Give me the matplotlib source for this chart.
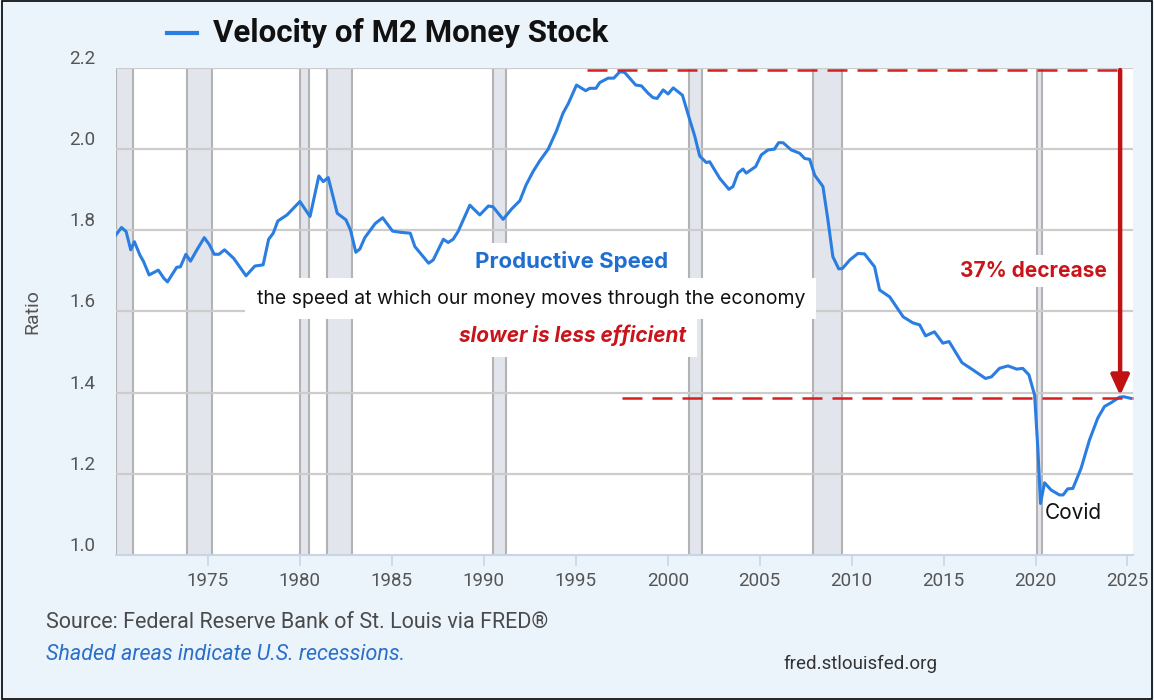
import matplotlib
matplotlib.use("Agg")
import matplotlib.pyplot as plt
from matplotlib.patches import Rectangle
from matplotlib.lines import Line2D

# ---------------- data ----------------
years = [1970.0, 1970.3, 1970.55, 1970.8, 1971.0, 1971.3, 1971.5, 1971.8, 1972.3, 1972.6,
         1972.8, 1973.3, 1973.5, 1973.8, 1974.05, 1974.4, 1974.8, 1975.07, 1975.34, 1975.6,
         1975.9, 1976.4, 1977.07, 1977.55, 1978.0, 1978.3, 1978.55, 1978.8, 1979.3, 1980.0,
         1980.55, 1981.03, 1981.27, 1981.54, 1982.03, 1982.5, 1982.75, 1983.04, 1983.26, 1983.53,
         1984.1, 1984.5, 1985.04, 1985.5, 1986.0, 1986.25, 1987.0, 1987.25, 1987.8, 1988.06,
         1988.33, 1988.6, 1989.24, 1989.78, 1990.25, 1990.5, 1991.05, 1991.5, 1991.96, 1992.3,
         1992.68, 1993.04, 1993.5, 1993.95, 1994.3, 1994.6, 1995.04, 1995.54, 1995.76, 1996.1,
         1996.3, 1996.76, 1997.07, 1997.4, 1997.66, 1998.26, 1998.57, 1998.93, 1999.2, 1999.42,
         1999.75, 2000.02, 2000.3, 2000.8, 2001.2, 2001.47, 2001.74, 2002.1, 2002.28, 2002.83,
         2003.33, 2003.55, 2003.82, 2004.09, 2004.27, 2004.78, 2005.09, 2005.45, 2005.8, 2006.03,
         2006.27, 2006.72, 2007.17, 2007.45, 2007.72, 2007.99, 2008.44, 2008.71, 2008.98, 2009.3,
         2009.5, 2009.9, 2010.34, 2010.7, 2011.25, 2011.52, 2012.07, 2012.8, 2013.33, 2013.7,
         2014.02, 2014.5, 2014.96, 2015.3, 2016.0, 2016.6, 2017.28, 2017.6, 2018.04, 2018.5,
         2018.98, 2019.3, 2019.64, 2019.95, 2020.13, 2020.27, 2020.49, 2020.85, 2021.3, 2021.5,
         2021.75, 2022.03, 2022.48, 2022.93, 2023.38, 2023.75, 2024.1, 2024.57, 2024.8, 2025.18]
velocity = [1.789, 1.807, 1.797, 1.752, 1.772, 1.739, 1.723, 1.690, 1.702, 1.682,
            1.673, 1.709, 1.710, 1.741, 1.724, 1.752, 1.782, 1.765, 1.741, 1.741,
            1.752, 1.731, 1.688, 1.712, 1.715, 1.778, 1.793, 1.823, 1.838, 1.871,
            1.834, 1.934, 1.920, 1.930, 1.842, 1.826, 1.801, 1.746, 1.754, 1.782,
            1.817, 1.831, 1.798, 1.795, 1.793, 1.760, 1.719, 1.727, 1.778, 1.770,
            1.778, 1.797, 1.862, 1.838, 1.860, 1.858, 1.827, 1.852, 1.873, 1.912,
            1.945, 1.971, 2.000, 2.045, 2.088, 2.113, 2.158, 2.144, 2.150, 2.150,
            2.164, 2.175, 2.175, 2.191, 2.189, 2.158, 2.156, 2.138, 2.127, 2.125,
            2.146, 2.136, 2.151, 2.133, 2.072, 2.032, 1.983, 1.967, 1.969, 1.928,
            1.901, 1.908, 1.941, 1.951, 1.941, 1.957, 1.986, 1.998, 2.000, 2.016,
            2.016, 1.998, 1.990, 1.977, 1.975, 1.936, 1.908, 1.826, 1.735, 1.705,
            1.706, 1.727, 1.743, 1.742, 1.710, 1.653, 1.636, 1.587, 1.572, 1.567,
            1.540, 1.550, 1.522, 1.526, 1.474, 1.456, 1.435, 1.439, 1.460, 1.466,
            1.458, 1.460, 1.444, 1.394, 1.259, 1.127, 1.178, 1.160, 1.148, 1.148,
            1.163, 1.164, 1.214, 1.283, 1.337, 1.366, 1.375, 1.389, 1.390, 1.386]

recession_starts = [1970.0, 1973.87, 1980.0, 1981.5, 1990.5, 2001.17, 2007.92, 2020.08]
recession_ends = [1970.9, 1975.2, 1980.5, 1982.85, 1991.2, 2001.87, 2009.45, 2020.33]

x_ticks = [1975, 1980, 1985, 1990, 1995, 2000, 2005, 2010, 2015, 2020, 2025]
y_ticks = [1.0, 1.2, 1.4, 1.6, 1.8, 2.0, 2.2]

peak_value = 2.195
peak_start_year = 1995.6
current_value = 1.388
current_start_year = 1997.5
arrow_year = 2024.6

title = "Velocity of M2 Money Stock"

# ---------------- figure ----------------
BG = "#ebf3fb"
LINE = "#2a7de1"
RED = "#c8141a"
GRAY_TXT = "#555555"

fig = plt.figure(figsize=(11.54, 7.0), dpi=100, facecolor=BG)
ax = fig.add_axes([116 / 1154, 1 - 555 / 700, (1133 - 116) / 1154, (555 - 68) / 700])
ax.set_facecolor("white")
ax.set_xlim(1970.0, 2025.3)
ax.set_ylim(1.0, 2.2)

# recessions
for s, e in zip(recession_starts, recession_ends):
    ax.axvspan(s, e, facecolor="#e2e6ec", edgecolor="none", zorder=1)
    ax.axvline(s, color="#b3b3b3", lw=1.5, zorder=1.1)
    ax.axvline(e, color="#b3b3b3", lw=1.5, zorder=1.1)

# horizontal grid
for yv in y_ticks[1:]:
    ax.axhline(yv, color="#cccccc", lw=1.6, zorder=1.2)

ax.plot(years, velocity, color=LINE, lw=2.2, zorder=5, solid_joinstyle="round")

# spines / ticks
for sp in ["left", "right", "top"]:
    ax.spines[sp].set_visible(False)
ax.spines["bottom"].set_color("#c9d5e4")
ax.spines["bottom"].set_linewidth(1.5)
ax.set_xticks(x_ticks)
ax.set_xticklabels([str(t) for t in x_ticks])
ax.set_yticks(y_ticks)
ax.set_yticklabels([f"{v:.1f}" for v in y_ticks])
ax.tick_params(axis="x", length=8, width=1.2, color="#c9d5e4", pad=4,
               labelsize=13.5, labelcolor=GRAY_TXT)
ax.tick_params(axis="y", length=0, pad=15, labelsize=13.5, labelcolor=GRAY_TXT)
for lab in ax.get_xticklabels() + ax.get_yticklabels():
    lab.set_fontfamily("Roboto")
for lab in ax.get_yticklabels():
    lab.set_verticalalignment("bottom")
ax.set_ylabel("Ratio", fontsize=14, color=GRAY_TXT, family="Roboto", labelpad=20)

# red dashed reference lines
ax.plot([peak_start_year, arrow_year], [peak_value, peak_value], color="#d42020", lw=1.8,
        dashes=(8, 4), zorder=6)
ax.plot([current_start_year, 2025.3], [current_value, current_value], color="#d42020", lw=1.8,
        dashes=(8, 4), zorder=6, clip_on=False)
ax.annotate("", xy=(arrow_year, current_value + 0.005), xytext=(arrow_year, peak_value),
            arrowprops=dict(arrowstyle="-|>,head_length=1.2,head_width=0.55", color="#bf1313",
                            lw=3.2, shrinkA=0, shrinkB=0), zorder=7)

# annotation texts
ax.text(1994.75, 1.722, "Productive Speed", ha="center", va="center", fontsize=16,
        fontweight="bold", color="#1f6fd0", family="Inter", zorder=8,
        bbox=dict(facecolor="white", edgecolor="none", pad=6))
ax.text(1992.55, 1.632, "the speed at which our money moves through the economy", ha="center",
        va="center", fontsize=14, color="#111111", family="Inter", zorder=8,
        bbox=dict(facecolor="white", edgecolor="none", pad=8))
ax.text(1994.8, 1.542, "slower is less efficient", ha="center", va="center", fontsize=15,
        fontweight="bold", style="italic", color=RED, family="Inter", zorder=8,
        bbox=dict(facecolor="white", edgecolor="none", pad=8))
ax.text(2019.9, 1.70, "37% decrease", ha="center", va="center", fontsize=15,
        fontweight="bold", color=RED, family="Inter", zorder=8,
        bbox=dict(facecolor="white", edgecolor="none", pad=4))
ax.text(2020.5, 1.104, "Covid", ha="left", va="center", fontsize=15, color="#111111",
        family="Inter", zorder=8)

# title with legend swatch
fig.add_artist(Line2D([167 / 1154, 197 / 1154], [1 - 33 / 700, 1 - 33 / 700], color=LINE, lw=3))
fig.text(213 / 1154, 1 - 33 / 700, title, ha="left", va="center", fontsize=22.5,
         fontweight="bold", color="#111111", family="Roboto")

# footer
fig.text(46 / 1154, 1 - 622 / 700, "Source: Federal Reserve Bank of St. Louis via FRED®",
         ha="left", va="center", fontsize=15.5, color="#4a4a4a", family="Roboto")
fig.text(46 / 1154, 1 - 654 / 700, "Shaded areas indicate U.S. recessions.",
         ha="left", va="center", fontsize=15.5, color="#2a6fc9", style="italic", family="Roboto")
fig.text(860 / 1154, 1 - 664 / 700, "fred.stlouisfed.org", ha="center", va="center",
         fontsize=13.5, color="#333333", family="Roboto")

# outer border
fig.add_artist(Rectangle((0.0015, 0.002), 0.997, 0.996, transform=fig.transFigure,
                         fill=False, edgecolor="black", lw=1.2))

fig.savefig("out.png", dpi=100, facecolor=BG)
